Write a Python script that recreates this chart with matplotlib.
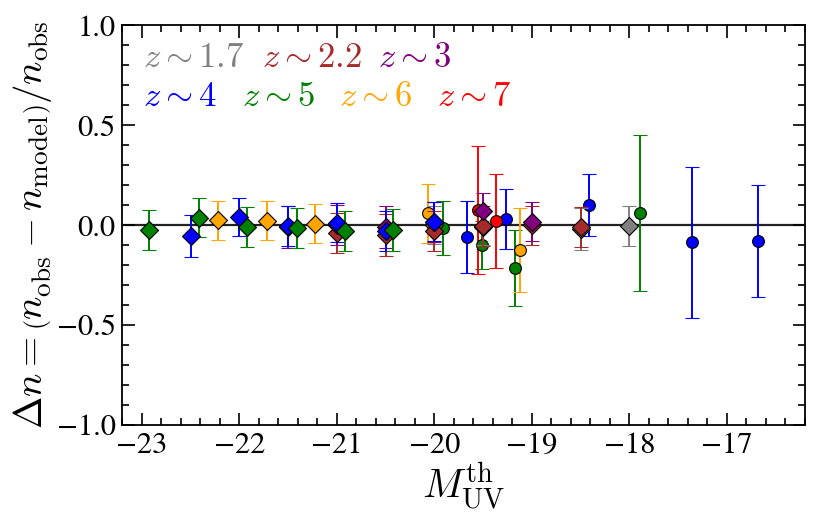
import matplotlib
matplotlib.use("Agg")
import matplotlib.pyplot as plt
from matplotlib.ticker import MultipleLocator

plt.rcParams['mathtext.fontset'] = 'cm'
plt.rcParams['font.family'] = ['STIXGeneral', 'DejaVu Serif']
plt.rcParams['axes.unicode_minus'] = True

# ---- data ----
labels = [r'$z\sim1.7$', r'$z\sim2.2$', r'$z\sim3$', r'$z\sim4$', r'$z\sim5$', r'$z\sim6$', r'$z\sim7$']
colors = ['gray', 'brown', 'purple', 'blue', 'green', 'orange', 'red']

# diamond series
d17_x = [-20.0, -19.5, -18.5, -18.0]
d17_y = [0.0, -0.01, -0.02, -0.005]
d17_e = [0.095, 0.09, 0.105, 0.1]

d22_x = [-21.0, -20.5, -20.0, -19.5, -19.0, -18.5]
d22_y = [-0.038, -0.048, -0.028, -0.004, 0.0, -0.008]
d22_e = [0.1, 0.105, 0.1, 0.1, 0.098, 0.1]

d3_x = [-21.5, -21.0, -20.5, -20.0, -19.5, -19.0]
d3_y = [-0.01, 0.0, -0.007, 0.015, 0.07, 0.018]
d3_e = [0.105, 0.1, 0.105, 0.1, 0.09, 0.098]

d4_x = [-22.5, -22.0, -21.5, -21.0, -20.5, -20.0]
d4_y = [-0.053, 0.042, -0.005, 0.012, -0.027, 0.018]
d4_e = [0.105, 0.096, 0.1, 0.098, 0.1, 0.098]

d5_x = [-22.93, -22.42, -21.92, -21.41, -20.92, -20.42]
d5_y = [-0.025, 0.038, -0.008, -0.013, -0.028, -0.024]
d5_e = [0.1, 0.098, 0.1, 0.1, 0.1, 0.103]

d6_x = [-22.22, -21.72, -21.22]
d6_y = [0.025, 0.022, 0.008]
d6_e = [0.097, 0.097, 0.098]

# circle series
c4_x = [-19.67, -19.26, -18.41, -17.36, -16.68]
c4_y = [-0.058, 0.03, 0.1, -0.085, -0.077]
c4_e = [0.18, 0.15, 0.155, 0.377, 0.28]

c5_x = [-19.91, -19.51, -19.17, -17.89]
c5_y = [-0.012, -0.097, -0.213, 0.062]
c5_e = [0.135, 0.12, 0.19, 0.39]

c6_x = [-20.07, -19.12]
c6_y = [0.06, -0.124]
c6_e = [0.148, 0.21]

c7_x = [-19.55, -19.37]
c7_y = [0.078, 0.02]
c7_e = [0.32, 0.235]

circles = [(c4_x, c4_y, c4_e, 'blue'), (c5_x, c5_y, c5_e, 'green'),
           (c6_x, c6_y, c6_e, 'orange'), (c7_x, c7_y, c7_e, 'red')]
diamonds = [(d17_x, d17_y, d17_e, 'gray'), (d22_x, d22_y, d22_e, 'brown'),
            (d3_x, d3_y, d3_e, 'purple'), (d4_x, d4_y, d4_e, 'blue'),
            (d5_x, d5_y, d5_e, 'green'), (d6_x, d6_y, d6_e, 'orange')]

fig = plt.figure(figsize=(8.22, 5.14), dpi=100)
ax = fig.add_axes([0.149, 0.173, 0.830, 0.778])

ax.axhline(0, color='#222222', lw=1.6, zorder=1)

for x, y, e, c in circles:
    ax.errorbar(x, y, yerr=e, fmt='o', color=c, ecolor=c, mec='black', mew=0.8,
                ms=8.5, elinewidth=1.4, capsize=5, capthick=1.4, zorder=2)
for x, y, e, c in diamonds:
    ax.errorbar(x, y, yerr=e, fmt='D', color=c, ecolor=c, mec='black', mew=0.8,
                ms=9.5, elinewidth=1.4, capsize=5, capthick=1.4, zorder=3)

ax.set_xlim(-23.2, -16.2)
ax.set_ylim(-1.0, 1.0)
ax.xaxis.set_major_locator(MultipleLocator(1))
ax.xaxis.set_minor_locator(MultipleLocator(0.2))
ax.yaxis.set_major_locator(MultipleLocator(0.5))
ax.yaxis.set_minor_locator(MultipleLocator(0.1))
ax.tick_params(which='both', direction='in', top=True, right=True, width=1.2)
ax.tick_params(which='major', length=9, labelsize=22, pad=5)
ax.tick_params(which='minor', length=5)
for s in ax.spines.values():
    s.set_linewidth(1.3)

ax.set_xlabel(r'$M_{\rm UV}^{\rm th}$', fontsize=29, labelpad=0)
ylab = ax.set_ylabel(r'$\Delta n = \left(n_{\rm obs}^{\,} - n_{\rm model}\right)/n_{\rm obs}$',
                     fontsize=28, labelpad=2)

pos = [(0.030, 0.915), (0.204, 0.915), (0.374, 0.915),
       (0.030, 0.818), (0.175, 0.818), (0.318, 0.818), (0.461, 0.818)]
for (px, py), lab, c in zip(pos, labels, colors):
    ax.text(px, py, lab, color=c, fontsize=25, transform=ax.transAxes,
            ha='left', va='center')

try:
    fig.savefig('out.png', dpi=100)
except Exception:
    ylab.set_text(r'$\Delta n = \left(n_{\rm obs} - n_{\rm model}\right)/n_{\rm obs}$')
    fig.savefig('out.png', dpi=100)
